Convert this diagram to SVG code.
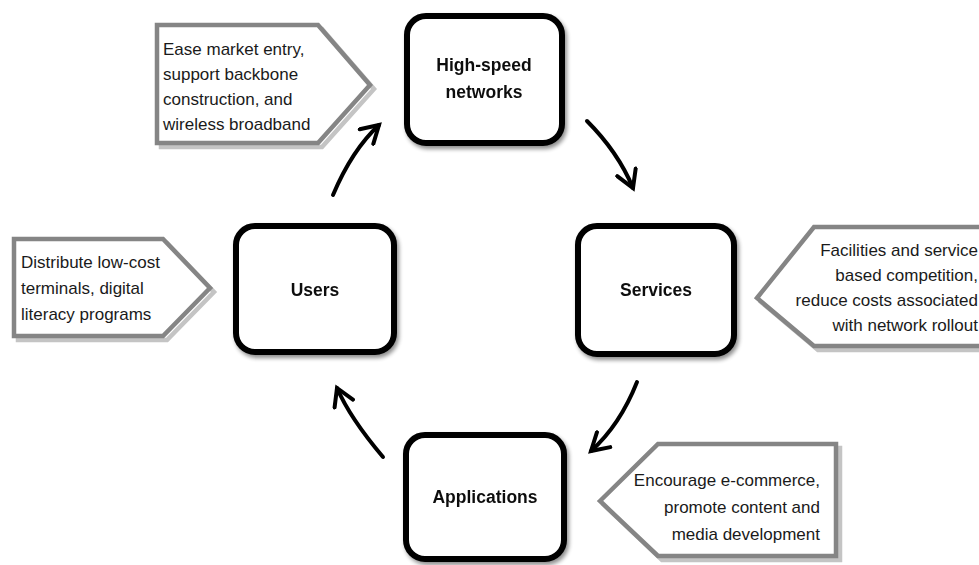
<svg xmlns="http://www.w3.org/2000/svg" width="979" height="565" viewBox="0 0 979 565">
  <style>
    .node rect { fill: #ffffff; stroke: #000000; stroke-width: 6; }
    .node text { font-family: "Liberation Sans", Arial, sans-serif; font-weight: bold; font-size: 17.5px; fill: #111111; text-anchor: middle; }
    .callout .shadow { fill: none; stroke: #c4c4c4; stroke-width: 4.5; stroke-linejoin: miter; }
    .callout .body { fill: #ffffff; stroke: #858585; stroke-width: 4.5; stroke-linejoin: miter; }
    .callout text { font-family: "Liberation Sans", Arial, sans-serif; font-size: 17px; fill: #1a1a1a; }
    .callout text.right { text-anchor: end; }
    .arrow { fill: none; stroke: #000000; stroke-width: 4; stroke-linecap: round; marker-end: url(#head); }
  </style>
  <defs>
    <filter id="soft" x="-10%" y="-10%" width="125%" height="125%">
      <feGaussianBlur in="SourceAlpha" stdDeviation="2"/>
      <feOffset dx="2" dy="3" result="b"/>
      <feComponentTransfer><feFuncA type="linear" slope="0.45"/></feComponentTransfer>
      <feMerge><feMergeNode/><feMergeNode in="SourceGraphic"/></feMerge>
    </filter>
    <marker id="head" markerUnits="userSpaceOnUse" markerWidth="24" markerHeight="24" viewBox="-2 -2 24 24" refX="17" refY="10" orient="auto">
      <path d="M0,0 L17,10 L0,20" fill="none" stroke="#000000" stroke-width="4" stroke-linecap="round" stroke-linejoin="miter"/>
    </marker>
  </defs>

  <rect width="979" height="565" fill="#ffffff"/>

  <!-- Policy callouts -->
  <g id="callout-networks" class="callout">
    <polygon class="shadow" points="161,29 322,29 374,89 322,147 161,147"/>
    <polygon class="body" points="157,25 318,25 370,85 318,143 157,143"/>
    <text x="163" y="55">Ease market entry,</text>
    <text x="163" y="80">support backbone</text>
    <text x="163" y="105">construction, and</text>
    <text x="163" y="130">wireless broadband</text>
  </g>

  <g id="callout-users" class="callout">
    <polygon class="shadow" points="18,243 167,243 214,292 167,340 18,340"/>
    <polygon class="body" points="14,239 163,239 210,288 163,336 14,336"/>
    <text x="21" y="268">Distribute low-cost</text>
    <text x="21" y="294">terminals, digital</text>
    <text x="21" y="320">literacy programs</text>
  </g>

  <g id="callout-services" class="callout">
    <polygon class="shadow" points="761,302 818,231 990,231 990,350 818,350"/>
    <polygon class="body" points="757,298 814,227 986,227 986,346 814,346"/>
    <text class="right" x="978" y="256">Facilities and service</text>
    <text class="right" x="978" y="281">based competition,</text>
    <text class="right" x="978" y="306">reduce costs associated</text>
    <text class="right" x="978" y="331">with network rollout</text>
  </g>

  <g id="callout-applications" class="callout">
    <polygon class="shadow" points="604,505 662,448 840,448 840,560 662,560"/>
    <polygon class="body" points="600,501 658,444 836,444 836,556 658,556"/>
    <text class="right" x="820" y="486">Encourage e-commerce,</text>
    <text class="right" x="820" y="513">promote content and</text>
    <text class="right" x="820" y="540">media development</text>
  </g>

  <!-- Cycle nodes -->
  <g id="node-networks" class="node" filter="url(#soft)">
    <rect x="407" y="16" width="155" height="127" rx="19"/>
    <text x="484" y="71">High-speed</text>
    <text x="484" y="98">networks</text>
  </g>

  <g id="node-users" class="node" filter="url(#soft)">
    <rect x="236" y="226" width="158" height="126" rx="19"/>
    <text x="315" y="296">Users</text>
  </g>

  <g id="node-services" class="node" filter="url(#soft)">
    <rect x="578" y="226" width="156" height="128" rx="19"/>
    <text x="656" y="296">Services</text>
  </g>

  <g id="node-applications" class="node" filter="url(#soft)">
    <rect x="406" y="435" width="158" height="124" rx="19"/>
    <text x="485" y="503">Applications</text>
  </g>

  <!-- Clockwise connectors -->
  <g id="connectors">
    <path class="arrow" d="M587,121 Q618,152 633,188"/>
    <path class="arrow" d="M637,382 Q620,425 591,451"/>
    <path class="arrow" d="M383,457 Q350,418 337,388"/>
    <path class="arrow" d="M333,195 Q352,150 379,125"/>
  </g>
</svg>
